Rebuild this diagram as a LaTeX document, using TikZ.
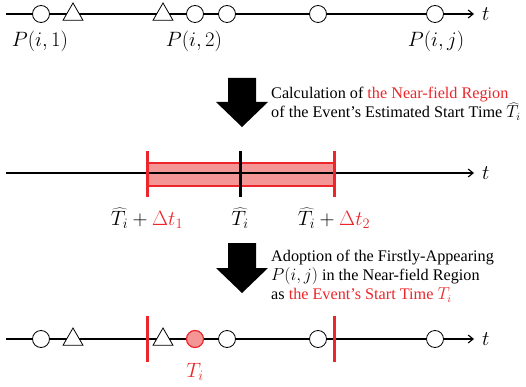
\documentclass[tikz,border=0pt]{standalone}
\usepackage{fontspec}
\setmainfont{Liberation Serif}
\usetikzlibrary{arrows.meta,shapes.geometric}
\definecolor{evRed}{RGB}{236,38,42}
\definecolor{evPink}{RGB}{245,150,150}

\tikzset{
  axis/.style={line width=1.1pt, -{Straight Barb[length=5pt,width=8pt]}},
  evcirc/.style={circle, draw, line width=0.8pt, fill=white, minimum size=17pt, inner sep=0pt},
  evtri/.style={regular polygon, regular polygon sides=3, draw, line width=0.8pt, fill=white, minimum size=23pt, inner sep=0pt},
  lab/.style={font=\fontsize{19.5}{21}\selectfont, inner sep=1pt},
  desc/.style={font=\fontsize{16.2}{19}\selectfont, align=left, anchor=west, inner sep=1pt},
  bound/.style={evRed, line width=3pt},
  bigarrow/.style={fill=black}
}

\begin{document}
\begin{tikzpicture}[x=1pt, y=-1pt]
\useasboundingbox (0,0) rectangle (526,387);
% 1段目: 時間軸と点
\coordinate (s1) at (6,14);
\coordinate (e1) at (474,14);
\draw[axis] (s1) -- (e1);
\node[lab, anchor=west] (t1) at (481,14) {$t$};
\node[evcirc] (c11) at (41,14) {};
\node[evtri]  (d11) at (73,14.5) {};
\node[evtri]  (d12) at (163,14.5) {};
\node[evcirc] (c12) at (195,14) {};
\node[evcirc] (c13) at (227,14) {};
\node[evcirc] (c14) at (318,14) {};
\node[evcirc] (c15) at (435,14) {};
\node[lab] (p1) at (40,41) {$P(i,1)$};
\node[lab] (p2) at (194,41) {$P(i,2)$};
\node[lab] (pj) at (436,41) {$P(i,j)$};

% 矢印1
\fill[bigarrow] (228,78) -- (256,78) -- (256,102) -- (268,102) -- (242,127)
  -- (216,102) -- (228,102) -- cycle;
\node[desc] (txt1) at (270,104) {Calculation of \textcolor{evRed}{the Near-field Region}\\
  of the Event’s Estimated Start Time $\widehat{T}_i$};

% 2段目: 近傍領域
\fill[evPink, draw=evRed, line width=1.5pt] (147,163) rectangle (334,186);
\coordinate (s2) at (6,173);
\coordinate (e2) at (474,173);
\draw[axis] (s2) -- (e2);
\node[lab, anchor=west] (t2) at (481,173) {$t$};
\draw[bound] (147,151) -- (147,197);
\draw[bound] (334,151) -- (334,197);
\draw[black, line width=3pt] (240,151) -- (240,197);
\node[lab] (r1) at (147,218) {$\widehat{T}_i+\textcolor{evRed}{\Delta t_1}$};
\node[lab] (r0) at (240,218) {$\widehat{T}_i$};
\node[lab] (r2) at (334,218) {$\widehat{T}_i+\textcolor{evRed}{\Delta t_2}$};

% 矢印2
\fill[bigarrow] (228,243) -- (256,243) -- (256,268) -- (268,268) -- (242,293)
  -- (216,268) -- (228,268) -- cycle;
\node[desc] (txt2) at (270,276) {Adoption of the Firstly-Appearing\\
  $P(i,j)$ in the Near-field Region\\
  as \textcolor{evRed}{the Event’s Start Time $T_i$}};

% 3段目: 開始時刻
\coordinate (s3) at (6,339);
\coordinate (e3) at (474,339);
\draw[axis] (s3) -- (e3);
\node[lab, anchor=west] (t3) at (481,339) {$t$};
\node[evcirc] (c31) at (41,339) {};
\node[evtri]  (d31) at (73,339.5) {};
\node[evtri]  (d32) at (163,339.5) {};
\node[evcirc, fill=evPink, draw=evRed, line width=1.2pt] (c32) at (195,339) {};
\node[evcirc] (c33) at (227,339) {};
\node[evcirc] (c34) at (318,339) {};
\node[evcirc] (c35) at (435,339) {};
\draw[bound] (147,316) -- (147,362);
\draw[bound] (334,316) -- (334,362);
\node[lab, evRed] (ti) at (195,372) {$T_i$};
\end{tikzpicture}
\end{document}
